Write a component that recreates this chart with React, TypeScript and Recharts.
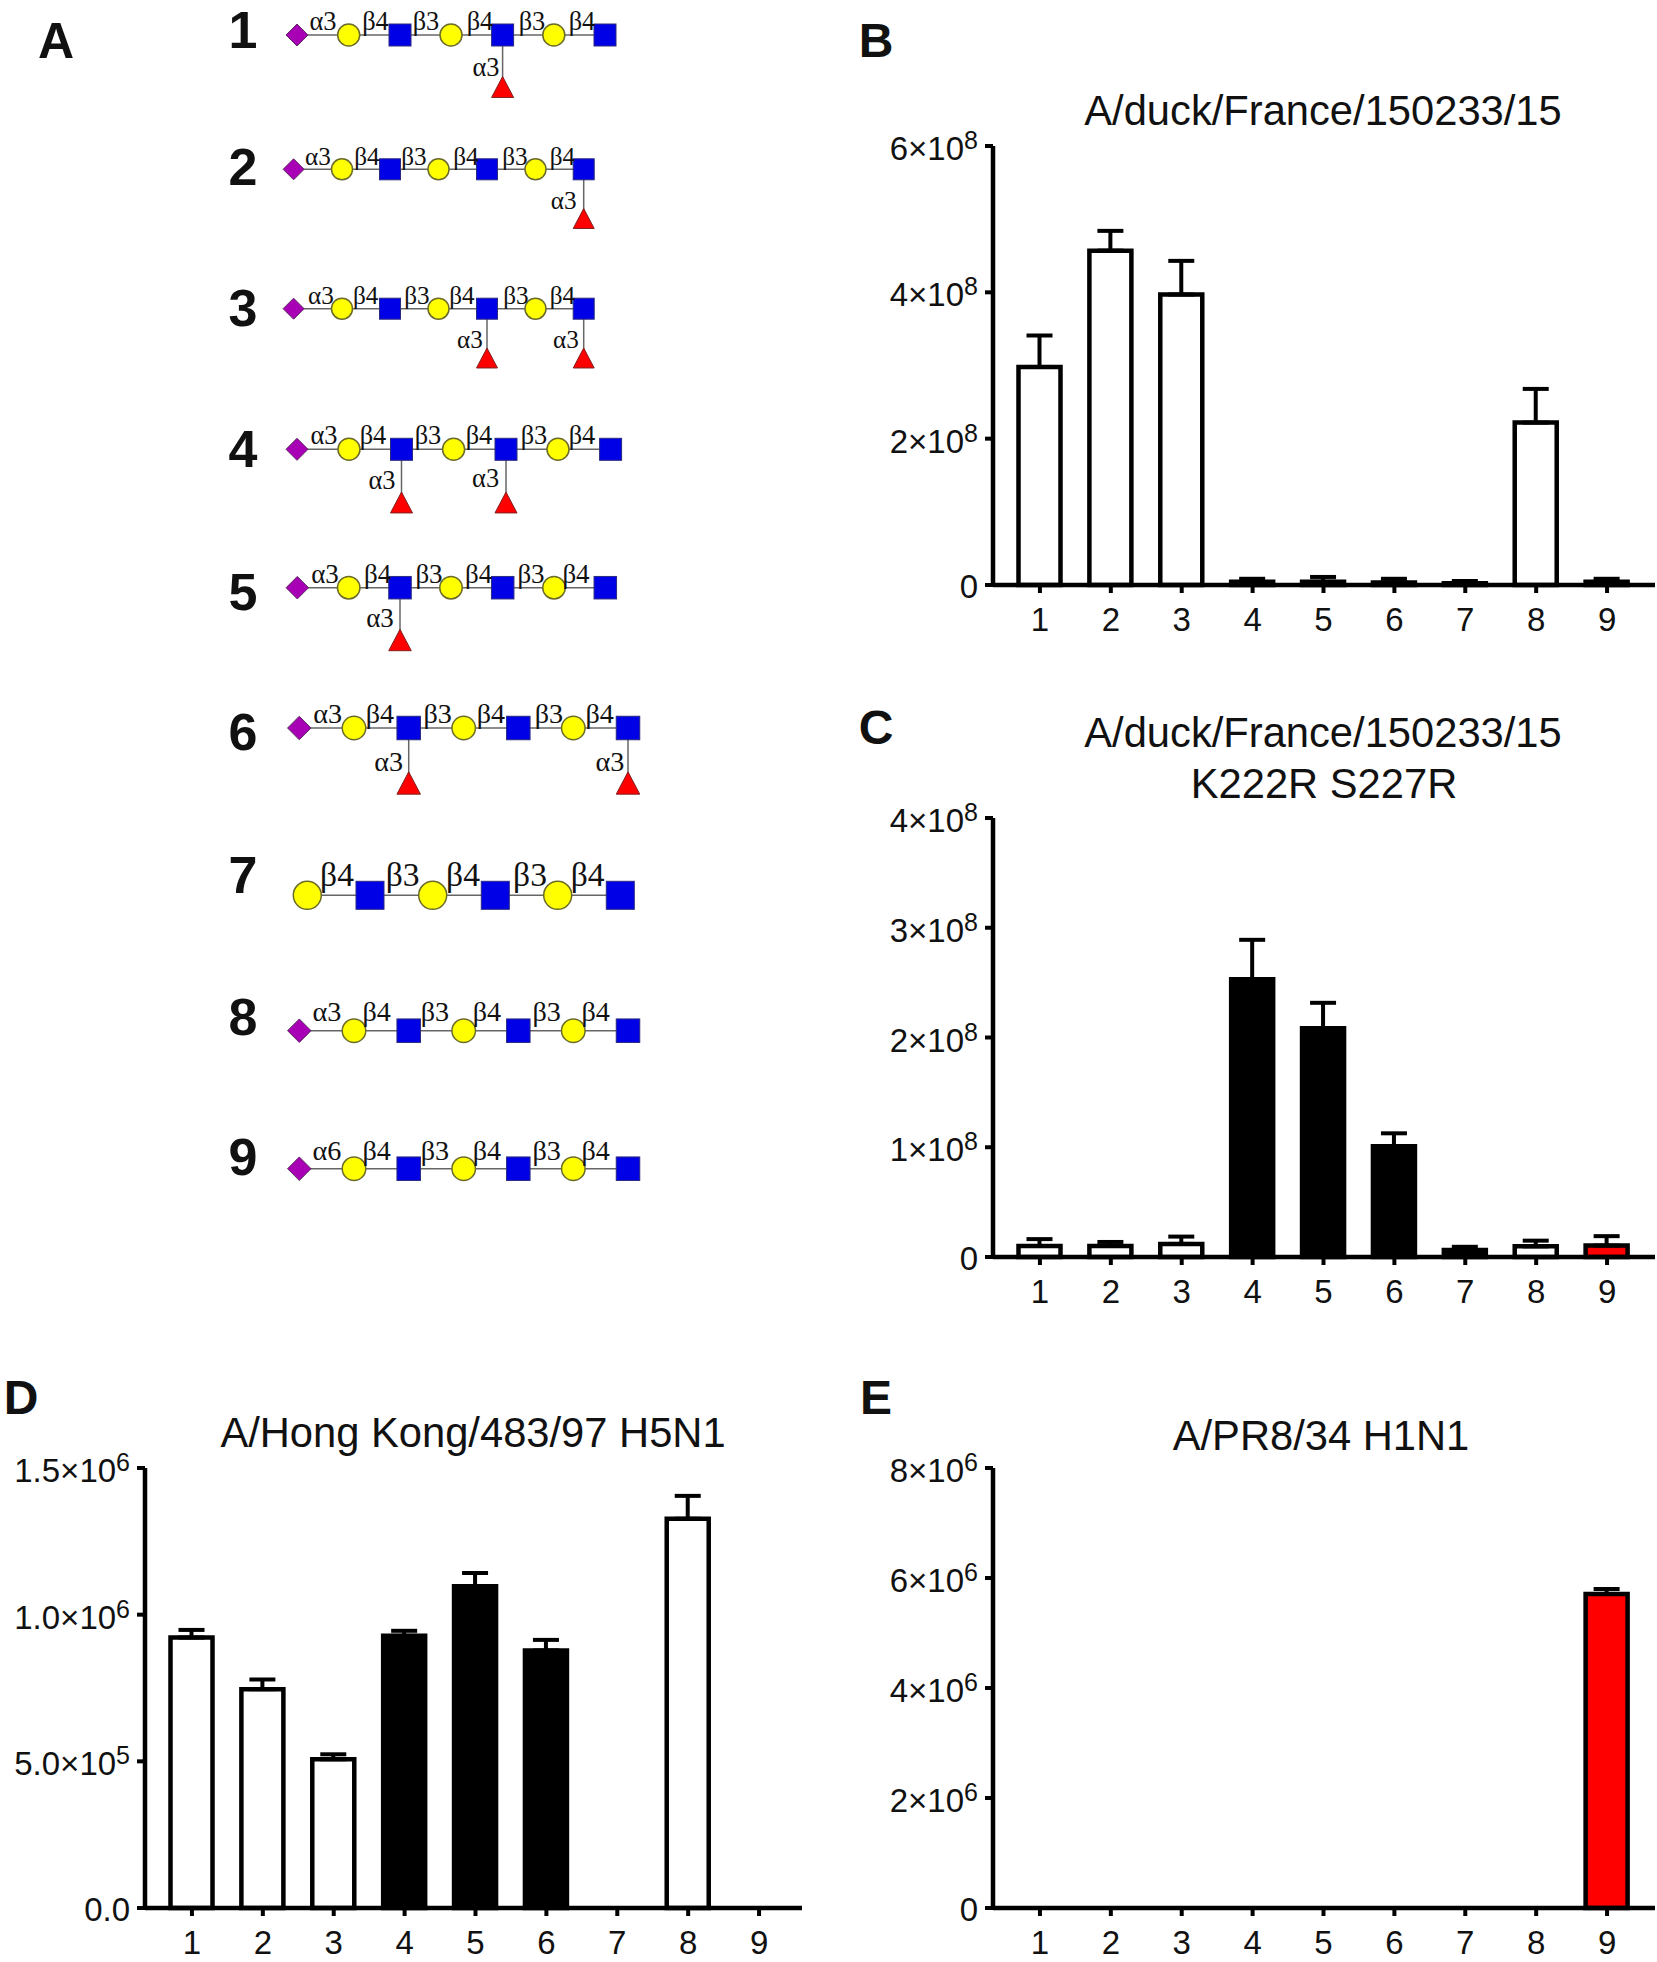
import React from "react";
import {
  BarChart,
  Bar,
  Cell,
  ErrorBar,
  XAxis,
  YAxis,
  ScatterChart,
  Scatter,
} from "recharts";

const FONT = "'Liberation Sans', Arial, sans-serif";
const WHITE = "#ffffff";
const BLACK = "#000000";
const RED = "#ff0000";

const categories = ["1", "2", "3", "4", "5", "6", "7", "8", "9"];

// panel B
const bMeans = [2.98e8, 4.57e8, 3.97e8, 0.045e8, 0.045e8, 0.035e8, 0.025e8, 2.22e8, 0.045e8];
const bErrors = [0.43e8, 0.27e8, 0.46e8, 0.04e8, 0.065e8, 0.05e8, 0.03e8, 0.46e8, 0.04e8];
const bFills = [WHITE, WHITE, WHITE, WHITE, WHITE, WHITE, WHITE, WHITE, WHITE];
const bTicks = [0, 2e8, 4e8, 6e8];
const bTickLabels = [["0", ""], ["2×10", "8"], ["4×10", "8"], ["6×10", "8"]];

// panel C
const cMeans = [0.1e8, 0.1e8, 0.119e8, 2.53e8, 2.085e8, 1.01e8, 0.063e8, 0.097e8, 0.104e8];
const cErrors = [0.063e8, 0.037e8, 0.067e8, 0.36e8, 0.231e8, 0.117e8, 0.03e8, 0.052e8, 0.086e8];
const cFills = [WHITE, WHITE, WHITE, BLACK, BLACK, BLACK, BLACK, WHITE, RED];
const cTicks = [0, 1e8, 2e8, 3e8, 4e8];
const cTickLabels = [["0", ""], ["1×10", "8"], ["2×10", "8"], ["3×10", "8"], ["4×10", "8"]];

// panel D
const dMeans = [9.22e5, 7.46e5, 5.07e5, 9.28e5, 10.97e5, 8.78e5, 0, 13.27e5, 0];
const dErrors = [0.26e5, 0.33e5, 0.17e5, 0.17e5, 0.45e5, 0.36e5, 0, 0.78e5, 0];
const dFills = [WHITE, WHITE, WHITE, BLACK, BLACK, BLACK, WHITE, WHITE, WHITE];
const dTicks = [0, 5e5, 1e6, 1.5e6];
const dTickLabels = [["0.0", ""], ["5.0×10", "5"], ["1.0×10", "6"], ["1.5×10", "6"]];

// panel E
const eMeans = [0, 0, 0, 0, 0, 0, 0, 0, 5.71e6];
const eErrors = [0, 0, 0, 0, 0, 0, 0, 0, 0.09e6];
const eFills = [WHITE, WHITE, WHITE, WHITE, WHITE, WHITE, WHITE, WHITE, RED];
const eTicks = [0, 2e6, 4e6, 6e6, 8e6];
const eTickLabels = [["0", ""], ["2×10", "6"], ["4×10", "6"], ["6×10", "6"], ["8×10", "6"]];

// panel A, glycan structures
const glycans = [
  { num: "1", numY: 29.5, y: 35, size: 22, kinds: "DCSCSCS", x: [297, 348.7, 400, 451, 502.6, 553.8, 605], links: ["α3", "β4", "β3", "β4", "β3", "β4"], linkX: [323, 375.5, 426, 480, 532, 582], linkY: 21, fuc: [[502.6, 87, 486, 67]] },
  { num: "2", numY: 167, y: 169.3, size: 21, kinds: "DCSCSCS", x: [293.6, 342, 390, 438.5, 487, 535.5, 583.7], links: ["α3", "β4", "β3", "β4", "β3", "β4"], linkX: [318, 367, 414, 466, 515, 562.5], linkY: 156, fuc: [[583.7, 218.5, 563.7, 200]] },
  { num: "3", numY: 308, y: 308.7, size: 21, kinds: "DCSCSCS", x: [293.6, 342, 390, 438.5, 487, 535.5, 583.7], links: ["α3", "β4", "β3", "β4", "β3", "β4"], linkX: [321, 365.6, 417, 462, 516, 562.5], linkY: 295, fuc: [[487, 358, 470, 339], [583.7, 358, 566, 339]] },
  { num: "4", numY: 449, y: 449.3, size: 22, kinds: "DCSCSCS", x: [297, 349, 401.5, 453.6, 506, 558, 610.6], links: ["α3", "β4", "β3", "β4", "β3", "β4"], linkX: [324, 373, 428, 479, 534, 582], linkY: 435, fuc: [[401.5, 502.5, 382, 480], [506, 502.5, 485.6, 478]] },
  { num: "5", numY: 591.7, y: 587.7, size: 22.5, kinds: "DCSCSCS", x: [297.3, 348.7, 400, 451, 502.7, 554, 605.3], links: ["α3", "β4", "β3", "β4", "β3", "β4"], linkX: [325, 377.7, 429, 478.7, 531, 576], linkY: 574, fuc: [[400, 640, 380, 618]] },
  { num: "6", numY: 731.7, y: 728, size: 23.5, kinds: "DCSCSCS", x: [299.3, 354, 408.7, 463.7, 518.3, 573.3, 628], links: ["α3", "β4", "β3", "β4", "β3", "β4"], linkX: [327.7, 380, 437.7, 491, 549, 599.7], linkY: 713, fuc: [[408.7, 783, 388.7, 761.7], [628, 783, 610, 761.7]] },
  { num: "7", numY: 875, y: 895.3, size: 28, kinds: "CSCSCS", x: [307.3, 370, 432.7, 495.3, 557.7, 620.3], links: ["β4", "β3", "β4", "β3", "β4"], linkX: [337, 402.7, 463, 530, 587.7], linkY: 874, fuc: [] },
  { num: "8", numY: 1016.7, y: 1030.7, size: 23.5, kinds: "DCSCSCS", x: [299.3, 354, 408.7, 463.7, 518.3, 573.3, 628], links: ["α3", "β4", "β3", "β4", "β3", "β4"], linkX: [327, 376.7, 435, 487, 546.7, 595.7], linkY: 1011, fuc: [] },
  { num: "9", numY: 1156.7, y: 1168.7, size: 23.5, kinds: "DCSCSCS", x: [299.3, 354, 408.7, 463.7, 518.3, 573.3, 628], links: ["α6", "β4", "β3", "β4", "β3", "β4"], linkX: [327, 376.7, 435, 487, 546.7, 595.7], linkY: 1150.7, fuc: [] },
];

const NoDot = () => <g />;

const Sugar = (props: any) => {
  const { cx, cy, payload } = props;
  const r = payload.size / 2;
  if (payload.kind === "S")
    return <rect x={cx - r} y={cy - r} width={r * 2} height={r * 2} fill="#0000e6" stroke="#2a2a80" strokeWidth={1} />;
  if (payload.kind === "C")
    return <circle cx={cx} cy={cy} r={r} fill="#ffff00" stroke="#6b6b2a" strokeWidth={1.5} />;
  if (payload.kind === "D")
    return <polygon points={`${cx - r},${cy} ${cx},${cy - r} ${cx + r},${cy} ${cx},${cy + r}`} fill="#a800b4" stroke="#5a2a60" strokeWidth={1} />;
  return <polygon points={`${cx - r},${cy + r * 0.95} ${cx},${cy - r * 0.95} ${cx + r},${cy + r * 0.95}`} fill="#ff0000" stroke="#802020" strokeWidth={1} />;
};

const LinkLabel = (props: any) => {
  const { cx, cy, payload } = props;
  return (
    <text x={cx} y={cy} textAnchor="middle" dominantBaseline="central" fontFamily="'Liberation Serif', serif" fontSize={payload.size * 1.2} fill="#111">
      {payload.text}
    </text>
  );
};

const NumLabel = (props: any) => {
  const { cx, cy, payload } = props;
  return (
    <text x={cx} y={cy} textAnchor="middle" dominantBaseline="central" fontFamily={FONT} fontWeight="bold" fontSize={52} fill="#111">
      {payload.text}
    </text>
  );
};

function GlycanPanel() {
  const residues: any[] = [];
  const labels: any[] = [];
  const numbers: any[] = [];
  const chains: any[][] = [];
  glycans.forEach((g) => {
    numbers.push({ x: 243, y: g.numY, text: g.num });
    chains.push(g.x.map((x) => ({ x, y: g.y })));
    g.x.forEach((x, i) => residues.push({ x, y: g.y, kind: g.kinds[i], size: g.size }));
    g.links.forEach((text, i) => labels.push({ x: g.linkX[i], y: g.linkY, text, size: g.size }));
    g.fuc.forEach(([x, y, lx, ly]) => {
      chains.push([{ x, y: g.y }, { x, y }]);
      residues.push({ x, y, kind: "T", size: g.size });
      labels.push({ x: lx, y: ly, text: "α3", size: g.size });
    });
  });
  return (
    <div style={{ position: "absolute", left: 0, top: 0 }}>
      <ScatterChart width={700} height={1230} margin={{ top: 0, right: 0, bottom: 0, left: 0 }}>
        <XAxis type="number" dataKey="x" domain={[0, 700]} hide />
        <YAxis type="number" dataKey="y" domain={[0, 1230]} reversed hide />
        {chains.map((c, i) => (
          <Scatter key={i} data={c} line={{ stroke: "#666", strokeWidth: 1.5 }} lineType="joint" shape={NoDot} isAnimationActive={false} />
        ))}
        <Scatter data={residues} shape={Sugar} isAnimationActive={false} />
        <Scatter data={labels} shape={LinkLabel} isAnimationActive={false} />
        <Scatter data={numbers} shape={NumLabel} isAnimationActive={false} />
      </ScatterChart>
    </div>
  );
}

function makeYTick(ticks: number[], tickLabels: string[][]) {
  return (props: any) => {
    const { x, y, payload } = props;
    const [base, exp] = tickLabels[ticks.indexOf(payload.value)] || ["", ""];
    return (
      <text x={x - 5} y={y + (exp ? 14 : 13)} textAnchor="end" fontFamily={FONT} fontSize={33} fill="#111">
        {base}
        {exp ? (
          <tspan dy={-11} fontSize={25}>
            {exp}
          </tspan>
        ) : null}
      </text>
    );
  };
}

const XTick = (props: any) => {
  const { x, y, payload } = props;
  return (
    <text x={x} y={y + 36} textAnchor="middle" fontFamily={FONT} fontSize={33} fill="#111">
      {payload.value}
    </text>
  );
};

const Y_WIDTH = 140;

function BarPanel({
  axisX,
  top,
  zero,
  right,
  means,
  errors,
  fills,
  ticks,
  tickLabels,
}: {
  axisX: number;
  top: number;
  zero: number;
  right: number;
  means: number[];
  errors: number[];
  fills: string[];
  ticks: number[];
  tickLabels: string[][];
}) {
  const data = categories.map((name, i) => ({
    name,
    value: means[i],
    err: [0, errors[i]],
  }));
  return (
    <div style={{ position: "absolute", left: axisX - Y_WIDTH, top: top - 20 }}>
      <BarChart
        width={Y_WIDTH + right - axisX}
        height={zero - top + 20 + 54}
        data={data}
        margin={{ top: 20, right: 0, bottom: 0, left: 0 }}
      >
        <XAxis
          dataKey="name"
          interval={0}
          height={54}
          padding={{ left: 11.5, right: right - axisX - 11.5 - 638 }}
          axisLine={{ stroke: "#000", strokeWidth: 4.5 }}
          tickLine={{ stroke: "#000", strokeWidth: 4 }}
          tickSize={8}
          tick={<XTick />}
        />
        <YAxis
          type="number"
          width={Y_WIDTH}
          domain={[ticks[0], ticks[ticks.length - 1]]}
          ticks={ticks}
          interval={0}
          axisLine={{ stroke: "#000", strokeWidth: 4.5 }}
          tickLine={{ stroke: "#000", strokeWidth: 4 }}
          tickSize={8}
          tick={makeYTick(ticks, tickLabels)}
        />
        <Bar dataKey="value" barSize={42} isAnimationActive={false}>
          {data.map((d, i) => (
            <Cell key={d.name} fill={fills[i]} stroke="#000" strokeWidth={4.5} />
          ))}
          <ErrorBar dataKey="err" direction="y" width={13} stroke="#000" strokeWidth={4} isAnimationActive={false} />
        </Bar>
      </BarChart>
    </div>
  );
}

function Txt({
  x,
  y,
  size,
  bold,
  children,
}: {
  x: number;
  y: number;
  size: number;
  bold?: boolean;
  children: React.ReactNode;
}) {
  return (
    <div
      style={{
        position: "absolute",
        left: x,
        top: y,
        transform: "translate(-50%, -50%)",
        fontFamily: FONT,
        fontSize: size,
        fontWeight: bold ? "bold" : "normal",
        lineHeight: 1,
        whiteSpace: "nowrap",
        color: "#111",
      }}
    >
      {children}
    </div>
  );
}

export default function App() {
  return (
    <div style={{ position: "absolute", left: 0, top: 0, width: 1657, height: 1962, background: "#fff", overflow: "hidden" }}>
      <GlycanPanel />
      <BarPanel axisX={993} top={146} zero={585} right={1655} means={bMeans} errors={bErrors} fills={bFills} ticks={bTicks} tickLabels={bTickLabels} />
      <BarPanel axisX={993} top={818} zero={1257} right={1655} means={cMeans} errors={cErrors} fills={cFills} ticks={cTicks} tickLabels={cTickLabels} />
      <BarPanel axisX={145} top={1468} zero={1908} right={802} means={dMeans} errors={dErrors} fills={dFills} ticks={dTicks} tickLabels={dTickLabels} />
      <BarPanel axisX={993} top={1468} zero={1908} right={1655} means={eMeans} errors={eErrors} fills={eFills} ticks={eTicks} tickLabels={eTickLabels} />

      <Txt x={56} y={41} size={50} bold>A</Txt>
      <Txt x={876} y={41} size={48} bold>B</Txt>
      <Txt x={876} y={728} size={48} bold>C</Txt>
      <Txt x={21} y={1398} size={48} bold>D</Txt>
      <Txt x={876} y={1398} size={48} bold>E</Txt>

      <Txt x={1323} y={111} size={41.7}>A/duck/France/150233/15</Txt>
      <Txt x={1323} y={733} size={41.7}>A/duck/France/150233/15</Txt>
      <Txt x={1324} y={784} size={41.7}>K222R S227R</Txt>
      <Txt x={473} y={1433} size={41.7}>A/Hong Kong/483/97 H5N1</Txt>
      <Txt x={1321} y={1436} size={41.7}>A/PR8/34 H1N1</Txt>
    </div>
  );
}
